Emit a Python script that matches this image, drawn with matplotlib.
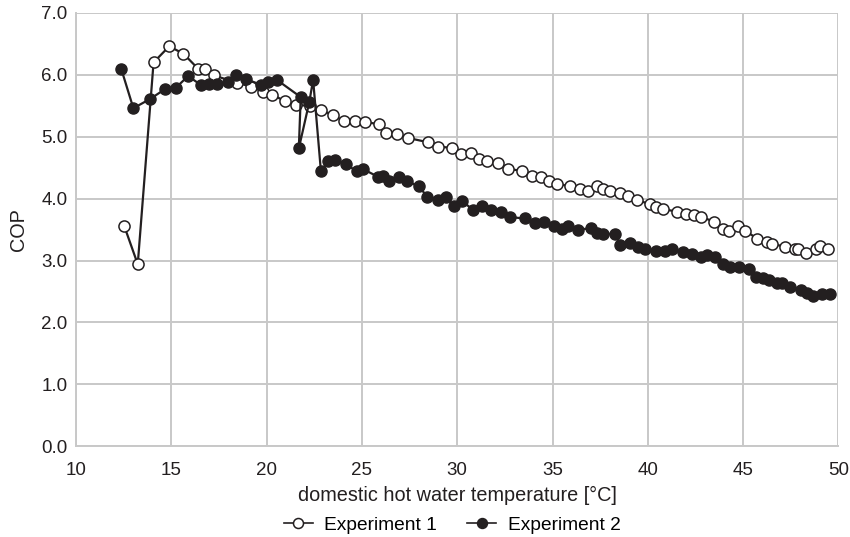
import matplotlib
matplotlib.use("Agg")
import matplotlib.pyplot as plt

# Experiment 1 (open markers)
exp1_t = [12.54, 13.24, 14.07, 14.89, 15.64, 16.40, 16.76, 17.23, 18.47, 19.17,
          19.81, 20.29, 20.99, 21.56, 22.30, 22.83, 23.50, 24.05, 24.62, 25.14,
          25.91, 26.25, 26.86, 27.42, 28.47, 29.00, 29.71, 30.22, 30.71, 31.15,
          31.56, 32.12, 32.64, 33.38, 33.92, 34.40, 34.83, 35.24, 35.90, 36.43,
          36.84, 37.33, 37.63, 38.03, 38.56, 38.95, 39.44, 40.09, 40.44, 40.79,
          41.55, 42.02, 42.43, 42.81, 43.48, 43.95, 44.24, 44.74, 45.12, 45.75,
          46.23, 46.54, 47.22, 47.71, 47.86, 48.29, 48.80, 49.03, 49.47]
exp1_cop = [3.55, 2.94, 6.20, 6.46, 6.34, 6.10, 6.09, 5.99, 5.87, 5.81,
            5.73, 5.68, 5.57, 5.52, 5.49, 5.43, 5.35, 5.25, 5.25, 5.24,
            5.20, 5.06, 5.04, 4.98, 4.91, 4.84, 4.82, 4.72, 4.73, 4.64,
            4.60, 4.58, 4.48, 4.45, 4.37, 4.35, 4.29, 4.24, 4.20, 4.16,
            4.13, 4.20, 4.15, 4.13, 4.09, 4.05, 3.98, 3.91, 3.86, 3.83,
            3.79, 3.75, 3.73, 3.70, 3.63, 3.51, 3.48, 3.55, 3.48, 3.35,
            3.30, 3.27, 3.22, 3.18, 3.18, 3.12, 3.18, 3.23, 3.18]

# Experiment 2 (filled markers)
exp2_t = [12.37, 13.01, 13.89, 14.68, 15.24, 15.88, 16.58, 16.96, 17.40, 17.99,
          18.41, 18.91, 19.70, 20.08, 20.53, 21.79, 21.69, 22.24, 22.44, 22.85,
          23.20, 23.58, 24.16, 24.72, 25.04, 25.86, 26.09, 26.44, 26.97, 27.39,
          27.97, 28.44, 28.97, 29.43, 29.81, 30.25, 30.83, 31.30, 31.78, 32.30,
          32.79, 33.53, 34.10, 34.54, 35.10, 35.51, 35.80, 36.33, 37.03, 37.34,
          37.64, 38.28, 38.56, 39.04, 39.51, 39.83, 40.44, 40.91, 41.27, 41.85,
          42.32, 42.78, 43.13, 43.55, 43.95, 44.30, 44.77, 45.30, 45.65, 46.05,
          46.35, 46.80, 47.05, 47.45, 48.03, 48.33, 48.68, 49.15, 49.57]
exp2_cop = [6.10, 5.46, 5.61, 5.77, 5.79, 5.98, 5.83, 5.85, 5.85, 5.88,
            6.00, 5.93, 5.84, 5.88, 5.92, 5.64, 4.81, 5.56, 5.92, 4.44,
            4.60, 4.63, 4.56, 4.44, 4.48, 4.35, 4.37, 4.28, 4.35, 4.28,
            4.20, 4.03, 3.98, 4.02, 3.88, 3.96, 3.82, 3.88, 3.82, 3.78,
            3.70, 3.68, 3.60, 3.63, 3.55, 3.51, 3.56, 3.50, 3.52, 3.45,
            3.43, 3.43, 3.25, 3.29, 3.22, 3.18, 3.15, 3.16, 3.18, 3.13,
            3.11, 3.05, 3.09, 3.06, 2.95, 2.89, 2.89, 2.86, 2.73, 2.72,
            2.68, 2.64, 2.63, 2.57, 2.53, 2.48, 2.42, 2.46, 2.46]

x_ticks = [10, 15, 20, 25, 30, 35, 40, 45, 50]
y_ticks = [0, 1, 2, 3, 4, 5, 6, 7]

plt.rcParams["font.family"] = ["Liberation Sans", "DejaVu Sans"]

INK = "#231f20"
GRID = "#c8c8c8"
FS = 13.5

fig = plt.figure(figsize=(8.5, 5.37), dpi=100)
ax = fig.add_axes([0.0894, 0.169, 0.897, 0.807])

ax.plot(exp1_t, exp1_cop, color=INK, linewidth=1.6, marker="o", markersize=8,
        markerfacecolor="white", markeredgecolor=INK, markeredgewidth=1.1,
        label="Experiment 1", zorder=3)
ax.plot(exp2_t, exp2_cop, color=INK, linewidth=1.6, marker="o", markersize=8,
        markerfacecolor=INK, markeredgecolor=INK,
        label="Experiment 2", zorder=4)

ax.set_xlim(10, 50)
ax.set_ylim(0, 7)
ax.set_xticks(x_ticks)
ax.set_yticks(y_ticks)
ax.set_yticklabels([f"{v:.1f}" for v in y_ticks])

ax.grid(True, color=GRID, linewidth=1.4, zorder=0)
ax.set_axisbelow(True)
for s in ["top", "right"]:
    ax.spines[s].set_visible(False)
for s in ["left", "bottom"]:
    ax.spines[s].set_color(GRID)
    ax.spines[s].set_linewidth(1.4)
ax.tick_params(length=0, labelsize=FS, colors=INK)
ax.tick_params(axis="x", pad=11)
ax.tick_params(axis="y", pad=6)

ax.set_xlabel("domestic hot water temperature [°C]", fontsize=14.3, color=INK, labelpad=5)
ax.set_ylabel("COP", fontsize=14.3, color=INK, labelpad=10)

leg = fig.legend(loc="center", bbox_to_anchor=(0.532, 0.022), ncol=2, frameon=False,
                 fontsize=13.8, handlelength=1.5, columnspacing=1.6, handletextpad=0.6,
                 markerscale=0.9, borderpad=0)
for line in leg.get_lines():
    line.set_linewidth(1.2)

fig.savefig("out.png", dpi=100)
